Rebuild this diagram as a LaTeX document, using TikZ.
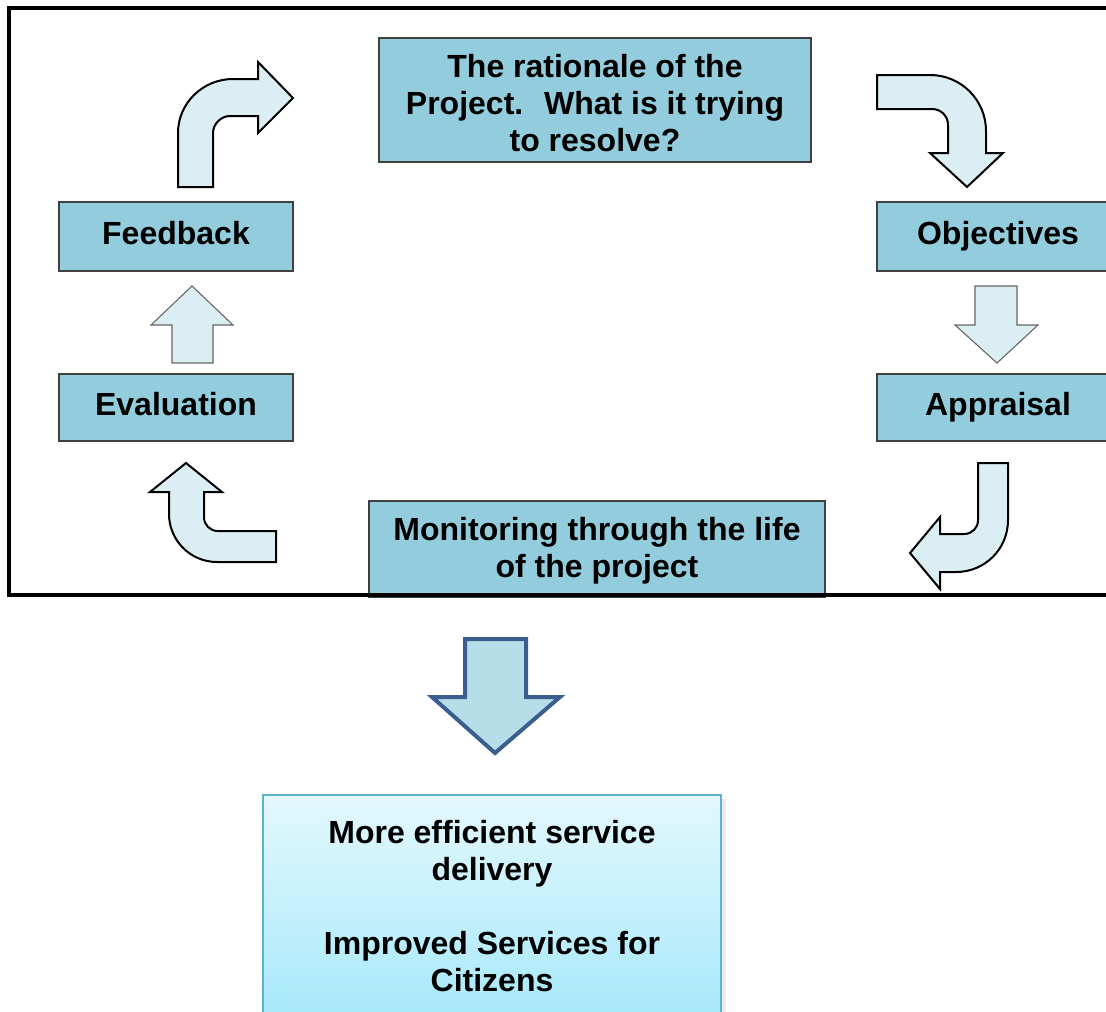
\documentclass[tikz,border=0pt]{standalone}
\usepackage{fontspec}
\setmainfont{Liberation Sans}
\usetikzlibrary{calc}
\usepackage{xcolor}

\definecolor{boxblue}{HTML}{93CDDD}
\definecolor{arrowfill}{HTML}{DBEEF4}
\definecolor{bigfill}{HTML}{B7DDE8}
\definecolor{bigline}{HTML}{3A5F8E}
\definecolor{resulttop}{HTML}{E3F8FD}
\definecolor{resultbot}{HTML}{A6E8FA}
\definecolor{resultline}{HTML}{5AB2CF}

\begin{document}
\begin{tikzpicture}[x=1pt, y=-1pt,
    stage/.style={draw=black!75, line width=1.3pt, fill=boxblue, align=center,
      inner sep=0pt, text height=23pt, text depth=7pt,
      font=\fontsize{32}{37}\selectfont\bfseries},
    bent/.style={draw=black, line width=2pt, fill=arrowfill},
    flat/.style={draw=black!60, line width=1.1pt, fill=arrowfill}]
      \clip (0,0) rectangle (1106,1012);

      % stages of the cycle
      \node [name=rationale, stage, text height=110pt, minimum width=432,
      minimum height=124] at (595,100)
      {The rationale of the\\Project.~ What is it trying\\to resolve?};
      \node [name=feedback, stage, minimum width=234, minimum height=69] at
      (176,236.5) {Feedback};
      \node [name=objectives, stage, minimum width=242, minimum height=69] at
      (998,236.5) {Objectives};
      \node [name=evaluation, stage, minimum width=234, minimum height=67] at
      (176,407.5) {Evaluation};
      \node [name=appraisal, stage, minimum width=242, minimum height=67] at
      (998,407.5) {Appraisal};
      \node [name=monitoring, stage, text height=63pt, minimum width=456,
      minimum height=96] at (597,549) {Monitoring through the life\\of the project};

      % bent arrows round the corners
      \draw [bent] (178,187) -- (178,133) .. controls (178,103) and (203,79) ..
      (233,79) -- (258,79) -- (258,62) -- (293,98) -- (258,133) -- (258,116) --
      (230,116) .. controls (221,116) and (213,124) .. (213,133) -- (213,187) -- cycle;
      \draw [bent] (877,75) -- (930,75) .. controls (961,75) and (986,100) ..
      (986,131) -- (986,153) -- (1003,153) -- (967,187) -- (930,153) -- (948,153) --
      (948,125) .. controls (948,116) and (941,109) .. (932,109) -- (877,109) -- cycle;
      \draw [bent] (978,463) -- (1008,463) -- (1008,520) .. controls (1008,549) and
      (985,572) .. (956,572) -- (940,572) -- (940,589) -- (910,553) -- (940,517) --
      (940,534) -- (964,534) .. controls (972,534) and (978,528) .. (978,520) -- cycle;
      \draw [bent] (276,531) -- (276,562) -- (217,562) .. controls (190,562) and
      (169,540) .. (169,514) -- (169,492) -- (150,492) -- (186,463) -- (222,492) --
      (204,492) -- (204,517) .. controls (204,525) and (210,531) .. (218,531) -- cycle;

      % straight arrows
      \draw [flat] (172,363) -- (172,325) -- (151,325) -- (192,286) -- (233,325) --
      (213,325) -- (213,363) -- cycle;
      \draw [flat] (975,286) -- (1017,286) -- (1017,325) -- (1038,325) -- (997,363) --
      (955,325) -- (975,325) -- cycle;

      % frame round the cycle
      \draw [line width=4pt] (9,8) rectangle (1125,595);

      % outcome
      \draw [draw=bigline, line width=4pt, fill=bigfill] (465,639) -- (526,639) --
      (526,697) -- (560,697) -- (495,753) -- (432,697) -- (465,697) -- cycle;
      \fill [black!8] (267,799) rectangle (726,1025);
      \node [name=result, draw=resultline, line width=1.3pt, top color=resulttop,
      bottom color=resultbot, minimum width=458, minimum height=226, inner sep=0pt,
      text height=173pt, text depth=7pt, align=center,
      font=\fontsize{32}{37}\selectfont\bfseries] at (492,908)
      {More efficient service\\delivery\\[37pt]Improved Services for\\Citizens};
\end{tikzpicture}
\end{document}
